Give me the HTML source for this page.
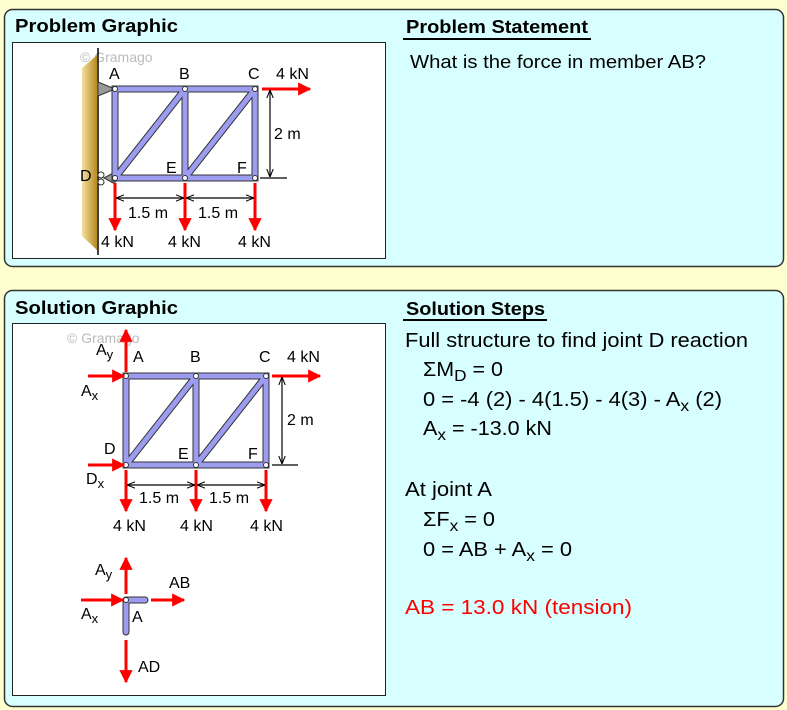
<!DOCTYPE html>
<html><head><meta charset="utf-8"><style>
html,body{margin:0;padding:0;background:#ffffd0;}
svg{display:block;font-family:"Liberation Sans",Arial,sans-serif;}
</style></head><body>
<svg width="787" height="710" viewBox="0 0 787 710" xmlns="http://www.w3.org/2000/svg">
<defs>
<linearGradient id="wall" x1="0" x2="1" y1="0" y2="0">
<stop offset="0" stop-color="#f4e0a0"/><stop offset="1" stop-color="#b88a20"/>
</linearGradient>
<marker id="ar" viewBox="0 0 10 10" refX="9" refY="5" markerWidth="4.4" markerHeight="4.4" orient="auto" markerUnits="strokeWidth">
<path d="M0,0 L10,5 L0,10 z" fill="#f00"/></marker>
<marker id="dk" viewBox="0 0 10 10" refX="10" refY="5" markerWidth="8" markerHeight="8" orient="auto-start-reverse" markerUnits="userSpaceOnUse">
<path d="M0,1 L10,5 L0,9" fill="none" stroke="#000" stroke-width="1.3"/></marker>
</defs>
<rect width="787" height="710" fill="#ffffd0"/>
<rect x="4.5" y="9.5" width="779" height="257" rx="8" fill="#d8ffff" stroke="#333" stroke-width="1.5"/>
<rect x="4.5" y="290.5" width="779" height="416" rx="8" fill="#d8ffff" stroke="#333" stroke-width="1.5"/>
<rect x="12.5" y="42.5" width="373" height="216" fill="#fff" stroke="#222"/>
<rect x="12.5" y="323.5" width="373" height="372" fill="#fff" stroke="#222"/>

<g font-weight="bold" font-size="18" lengthAdjust="spacingAndGlyphs">
<text x="15" y="32" textLength="163" lengthAdjust="spacingAndGlyphs">Problem Graphic</text>
<text x="406" y="33" textLength="182" lengthAdjust="spacingAndGlyphs">Problem Statement</text>
<text x="15" y="314" textLength="163" lengthAdjust="spacingAndGlyphs">Solution Graphic</text>
<text x="406" y="315" textLength="139" lengthAdjust="spacingAndGlyphs">Solution Steps</text>
</g>
<line x1="403" y1="39" x2="591" y2="39" stroke="#000" stroke-width="2"/>
<line x1="403" y1="320" x2="547" y2="320" stroke="#000" stroke-width="2"/>
<text x="410" y="68" font-size="18" textLength="296" lengthAdjust="spacingAndGlyphs">What is the force in member AB?</text>

<g font-size="20">
<text x="405" y="347" textLength="343" lengthAdjust="spacingAndGlyphs">Full structure to find joint D reaction</text>
<text x="423" y="376" textLength="80" lengthAdjust="spacingAndGlyphs">ΣM<tspan font-size="16" dy="5">D</tspan><tspan dy="-5"> = 0</tspan></text>
<text x="423" y="406" textLength="299" lengthAdjust="spacingAndGlyphs">0 = -4 (2) - 4(1.5) - 4(3) - A<tspan font-size="16" dy="5">x</tspan><tspan dy="-5"> (2)</tspan></text>
<text x="423" y="435" textLength="129" lengthAdjust="spacingAndGlyphs">A<tspan font-size="16" dy="5">x</tspan><tspan dy="-5"> = -13.0 kN</tspan></text>
<text x="405" y="496" textLength="87" lengthAdjust="spacingAndGlyphs">At joint A</text>
<text x="423" y="526" textLength="72" lengthAdjust="spacingAndGlyphs">ΣF<tspan font-size="16" dy="5">x</tspan><tspan dy="-5"> = 0</tspan></text>
<text x="423" y="556" textLength="149" lengthAdjust="spacingAndGlyphs">0 = AB + A<tspan font-size="16" dy="5">x</tspan><tspan dy="-5"> = 0</tspan></text>
<text x="405" y="614" fill="#f00" textLength="227" lengthAdjust="spacingAndGlyphs">AB = 13.0 kN  (tension)</text>
</g>

<!-- TOP GRAPHIC -->
<text x="80" y="62" font-size="14" fill="#bbb">© Gramago</text>
<polygon points="82,68 97,55 97,250 82,236" fill="url(#wall)"/>
<line x1="98" y1="48" x2="98" y2="255" stroke="#000" stroke-width="1.5"/>
<polygon points="98,82 115,89 98,96" fill="#999" stroke="#333"/>
<polygon points="104,178 115,172 115,184" fill="#999" stroke="#333"/>
<circle cx="101" cy="175" r="3" fill="#fff" stroke="#333"/>
<circle cx="101" cy="182" r="3" fill="#fff" stroke="#333"/>
<g stroke-linecap="round">
<g stroke="#333" stroke-width="7">
<path d="M115,89H255V178H115Z M185,89V178 M115,178L185,89 M185,178L255,89" fill="none"/></g>
<g stroke="#9c9cf0" stroke-width="5">
<path d="M115,89H255V178H115Z M185,89V178 M115,178L185,89 M185,178L255,89" fill="none"/></g>
</g>
<g fill="#fff" stroke="#333" stroke-width="1">
<circle cx="115" cy="89" r="2.5"/><circle cx="185" cy="89" r="2.5"/><circle cx="255" cy="89" r="2.5"/>
<circle cx="115" cy="178" r="2.5"/><circle cx="185" cy="178" r="2.5"/><circle cx="255" cy="178" r="2.5"/>
</g>
<g stroke="#f00" stroke-width="3" marker-end="url(#ar)">
<line x1="262" y1="89" x2="310" y2="89"/>
<line x1="115" y1="183" x2="115" y2="230"/>
<line x1="185" y1="183" x2="185" y2="230"/>
<line x1="255" y1="183" x2="255" y2="230"/>
</g>
<g stroke="#000" stroke-width="1.2">
<line x1="116" y1="198" x2="184" y2="198" marker-start="url(#dk)" marker-end="url(#dk)"/>
<line x1="186" y1="198" x2="254" y2="198" marker-start="url(#dk)" marker-end="url(#dk)"/>
<line x1="270" y1="90" x2="270" y2="177" marker-start="url(#dk)" marker-end="url(#dk)"/>
<line x1="260" y1="178" x2="287" y2="178"/>
</g>
<g font-size="16">
<text x="109" y="79">A</text><text x="179" y="79">B</text><text x="248" y="79">C</text>
<text x="276" y="79">4 kN</text>
<text x="80" y="181">D</text><text x="166" y="173">E</text><text x="237" y="173">F</text>
<text x="274" y="139">2 m</text>
<text x="128" y="218">1.5 m</text><text x="198" y="218">1.5 m</text>
<text x="101" y="247">4 kN</text><text x="168" y="247">4 kN</text><text x="238" y="247">4 kN</text>
</g>

<!-- BOTTOM GRAPHIC -->
<text x="67" y="343" font-size="14" fill="#bbb">© Gramago</text>
<g stroke-linecap="round">
<g stroke="#333" stroke-width="7">
<path d="M126,376H266V465H126Z M196,376V465 M126,465L196,376 M196,465L266,376" fill="none"/>
<path d="M126,600H145 M126,600V632" fill="none"/></g>
<g stroke="#9c9cf0" stroke-width="5">
<path d="M126,376H266V465H126Z M196,376V465 M126,465L196,376 M196,465L266,376" fill="none"/>
<path d="M126,600H145 M126,600V632" fill="none"/></g>
</g>
<g fill="#fff" stroke="#333" stroke-width="1">
<circle cx="126" cy="376" r="2.5"/><circle cx="196" cy="376" r="2.5"/><circle cx="266" cy="376" r="2.5"/>
<circle cx="126" cy="465" r="2.5"/><circle cx="196" cy="465" r="2.5"/><circle cx="266" cy="465" r="2.5"/>
<circle cx="126" cy="600" r="2.5"/>
</g>
<g stroke="#f00" stroke-width="3" marker-end="url(#ar)">
<line x1="126" y1="372" x2="126" y2="330"/>
<line x1="88" y1="376" x2="124" y2="376"/>
<line x1="88" y1="465" x2="124" y2="465"/>
<line x1="272" y1="376" x2="320" y2="376"/>
<line x1="126" y1="470" x2="126" y2="511"/>
<line x1="196" y1="470" x2="196" y2="511"/>
<line x1="266" y1="470" x2="266" y2="511"/>
<line x1="126" y1="594" x2="126" y2="558"/>
<line x1="126" y1="640" x2="126" y2="682"/>
<line x1="81" y1="600" x2="123" y2="600"/>
<line x1="151" y1="600" x2="184" y2="600"/>
</g>
<g stroke="#000" stroke-width="1.2">
<line x1="127" y1="485" x2="195" y2="485" marker-start="url(#dk)" marker-end="url(#dk)"/>
<line x1="197" y1="485" x2="265" y2="485" marker-start="url(#dk)" marker-end="url(#dk)"/>
<line x1="282" y1="377" x2="282" y2="464" marker-start="url(#dk)" marker-end="url(#dk)"/>
<line x1="272" y1="465" x2="298" y2="465"/>
</g>
<g font-size="16">
<text x="96" y="355">A<tspan font-size="13" dy="4">y</tspan></text>
<text x="133" y="362">A</text><text x="190" y="362">B</text><text x="259" y="362">C</text>
<text x="287" y="362">4 kN</text>
<text x="81" y="396">A<tspan font-size="13" dy="4">x</tspan></text>
<text x="104" y="454">D</text><text x="178" y="459">E</text><text x="248" y="459">F</text>
<text x="287" y="425">2 m</text>
<text x="86" y="484">D<tspan font-size="13" dy="4">x</tspan></text>
<text x="139" y="503">1.5 m</text><text x="209" y="503">1.5 m</text>
<text x="113" y="531">4 kN</text><text x="180" y="531">4 kN</text><text x="250" y="531">4 kN</text>
<text x="95" y="575">A<tspan font-size="13" dy="4">y</tspan></text>
<text x="169" y="588">AB</text>
<text x="81" y="619">A<tspan font-size="13" dy="4">x</tspan></text>
<text x="132" y="622">A</text>
<text x="138" y="672">AD</text>
</g>
</svg>
</body></html>
